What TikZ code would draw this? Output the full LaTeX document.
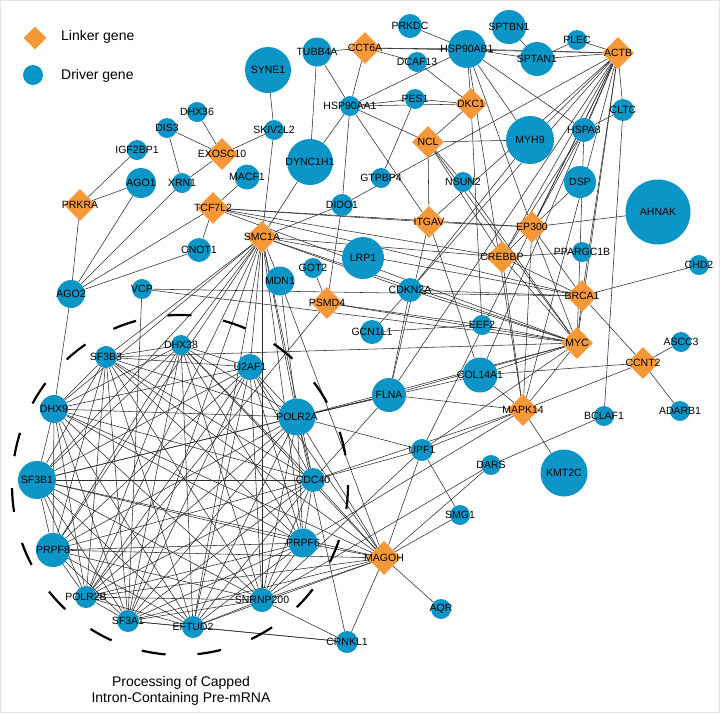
\documentclass[tikz,border=0pt]{standalone}
\usepackage{fontspec}
\setmainfont{Liberation Sans}
\usetikzlibrary{shapes.geometric}
\pgfdeclarelayer{bg}
\pgfdeclarelayer{fg}
\pgfsetlayers{bg,main,fg}
\definecolor{drvblue}{RGB}{12,150,199}
\definecolor{lnkorange}{RGB}{247,152,56}
\definecolor{framegray}{RGB}{228,228,228}
\tikzset{
  drv/.style={circle, fill=drvblue, draw=none, inner sep=0pt},
  lnk/.style={diamond, fill=lnkorange, draw=none, inner sep=0pt, minimum width=32pt, minimum height=32pt},
  lbl/.style={font=\fontsize{10.5}{12}\selectfont, text=black, inner sep=0pt},
  edge/.style={draw=black!82, line width=0.55pt},
  legtext/.style={font=\fontsize{14}{16}\selectfont, anchor=west, inner sep=0pt},
}
\newcommand\drvnode[4]{\node[drv,minimum size=#4pt] (#1) at (#2,#3) {};
  \begin{pgfonlayer}{fg}\node[lbl] (#1-l) at (#2,#3) {#1};\end{pgfonlayer}}
\newcommand\lnknode[3]{\node[lnk] (#1) at (#2,#3) {};
  \begin{pgfonlayer}{fg}\node[lbl] (#1-l) at (#2,#3) {#1};\end{pgfonlayer}}
\def\clusterlist{SF3B3,DHX38,U2AF1,DHX9,SF3B1,POLR2A,CDC40,PRPF8,PRPF6,POLR2B,SF3A1,EFTUD2,SNRNP200}
\begin{document}
\begin{tikzpicture}[x=1pt,y=-1pt]
\begin{pgfonlayer}{bg}
\fill[white] (0,0) rectangle (720,713);
\draw[framegray, line width=1pt] (0.5,0.5) rectangle (719.5,712.5);
\end{pgfonlayer}
\useasboundingbox (0,0) rectangle (720,713);
% legend
\node[lnk, minimum width=23pt, minimum height=23pt] (legL) at (35,38) {};
\node[drv, minimum size=20pt] (legD) at (33,75) {};
\node[legtext] (legLt) at (61,37) {Linker gene};
\node[legtext] (legDt) at (61,76) {Driver gene};
% driver genes
\drvnode{SYNE1}{268}{70}{46}
\drvnode{TUBB4A}{317}{52}{29}
\drvnode{PRKDC}{410}{26}{24}
\drvnode{HSP90AB1}{467}{49}{38}
\drvnode{DCAF13}{417}{62}{20}
\drvnode{SPTBN1}{509}{27}{34}
\drvnode{SPTAN1}{537}{59}{34}
\drvnode{PLEC}{577}{40}{20}
\drvnode{CLTC}{623}{110}{22}
\drvnode{HSPA8}{584}{130}{24}
\drvnode{MYH9}{530}{140}{48}
\drvnode{DSP}{580}{182}{32}
\drvnode{AHNAK}{658}{212}{65}
\drvnode{CHD2}{699}{265}{20}
\drvnode{PPARGC1B}{582}{252}{20}
\drvnode{EEF2}{482}{325}{20}
\drvnode{ASCC3}{681}{342}{20}
\drvnode{ADARB1}{680}{411}{20}
\drvnode{BCLAF1}{604}{416}{20}
\drvnode{KMT2C}{564}{473}{47}
\drvnode{DARS}{491}{465}{20}
\drvnode{SMG1}{460}{515}{20}
\drvnode{AQR}{441}{609}{20}
\drvnode{CRNKL1}{347}{642}{22}
\drvnode{UPF1}{422}{450}{22}
\drvnode{FLNA}{389}{395}{34}
\drvnode{COL14A1}{480}{375}{35}
\drvnode{GCN1L1}{372}{332}{24}
\drvnode{CDKN2A}{410}{290}{24}
\drvnode{LRP1}{363}{258}{42}
\drvnode{GOT2}{313}{268}{20}
\drvnode{MDN1}{280}{281}{29}
\drvnode{DIDO1}{342}{205}{22}
\drvnode{GTPBP4}{381}{178}{20}
\drvnode{NSUN2}{463}{182}{20}
\drvnode{DYNC1H1}{310}{162}{46}
\drvnode{HSP90AA1}{350}{106}{20}
\drvnode{PES1}{415}{99}{20}
\drvnode{SKIV2L2}{274}{130}{20}
\drvnode{MACF1}{247}{177}{25}
\drvnode{DHX36}{197}{112}{20}
\drvnode{DIS3}{167}{128}{20}
\drvnode{IGF2BP1}{137}{150}{20}
\drvnode{AGO1}{141}{183}{30}
\drvnode{XRN1}{182}{183}{20}
\drvnode{CNOT1}{199}{250}{24}
\drvnode{AGO2}{71}{294}{28}
\drvnode{VCP}{142}{289}{20}
\drvnode{SF3B3}{106}{357}{22}
\drvnode{DHX38}{181}{345}{20}
\drvnode{U2AF1}{250}{367}{26}
\drvnode{DHX9}{54}{409}{28}
\drvnode{SF3B1}{37}{480}{38}
\drvnode{POLR2A}{297}{417}{37}
\drvnode{CDC40}{313}{480}{24}
\drvnode{PRPF8}{53}{550}{34}
\drvnode{PRPF6}{303}{543}{29}
\drvnode{POLR2B}{86}{597}{22}
\drvnode{SF3A1}{128}{621}{22}
\drvnode{EFTUD2}{193}{627}{22}
\drvnode{SNRNP200}{262}{600}{24}
% linker genes
\lnknode{CCT6A}{365}{48}
\lnknode{ACTB}{618}{53}
\lnknode{DKC1}{471}{104}
\lnknode{NCL}{428}{142}
\lnknode{EXOSC10}{222}{154}
\lnknode{PRKRA}{80}{205}
\lnknode{TCF7L2}{213}{208}
\lnknode{SMC1A}{262}{237}
\lnknode{ITGAV}{429}{222}
\lnknode{EP300}{532}{227}
\lnknode{CREBBP}{502}{257}
\lnknode{BRCA1}{582}{296}
\lnknode{PSMD4}{327}{303}
\lnknode{MYC}{577}{343}
\lnknode{CCNT2}{643}{363}
\lnknode{MAPK14}{523}{410}
\node[lnk, minimum width=34pt, minimum height=34pt] (MAGOH) at (384,558) {};
\begin{pgfonlayer}{fg}\node[lbl] (MAGOH-l) at (384,558) {MAGOH};\end{pgfonlayer}
% edges
\begin{pgfonlayer}{bg}
\foreach \a [count=\i] in \clusterlist {
  \foreach \b [count=\j] in \clusterlist {
    \ifnum\j>\i \draw[edge] (\a) -- (\b); \fi
  }
  \draw[edge] (SMC1A) -- (\a);
  \draw[edge] (MAGOH) -- (\a);
}
\foreach \a/\b in {DHX36/EXOSC10, DIS3/EXOSC10, DIS3/XRN1, XRN1/EXOSC10, EXOSC10/SKIV2L2,
  IGF2BP1/PRKRA, PRKRA/AGO1, PRKRA/AGO2, AGO2/AGO1, AGO2/XRN1, AGO2/TCF7L2, AGO2/CNOT1, AGO2/DHX9,
  TCF7L2/CNOT1, TCF7L2/MACF1, TCF7L2/ITGAV, TCF7L2/EP300, TCF7L2/CREBBP, TCF7L2/BRCA1, TCF7L2/MYC,
  SYNE1/SKIV2L2, SKIV2L2/SMC1A,
  TUBB4A/CCT6A, TUBB4A/HSP90AA1, TUBB4A/DYNC1H1,
  CCT6A/HSP90AB1, CCT6A/ACTB, CCT6A/DCAF13, CCT6A/HSP90AA1,
  PRKDC/HSP90AB1, HSP90AB1/HSP90AA1, HSP90AB1/SPTAN1, HSP90AB1/ACTB, HSP90AB1/DKC1, HSP90AB1/HSPA8,
  HSP90AB1/MYH9, HSP90AB1/EP300, HSP90AB1/MAPK14,
  SPTBN1/SPTAN1, SPTAN1/PLEC, SPTAN1/ACTB, PLEC/ACTB,
  DCAF13/DKC1, HSP90AA1/PES1, PES1/DKC1, HSP90AA1/DKC1, HSP90AA1/NCL, HSP90AA1/DIDO1, HSP90AA1/ITGAV,
  HSP90AA1/DYNC1H1,
  GTPBP4/PES1, NCL/DKC1, NCL/MYH9, NCL/NSUN2, NCL/ITGAV, NCL/MYC, NCL/CREBBP, DKC1/EEF2,
  ACTB/CLTC, ACTB/HSPA8, ACTB/MYH9, ACTB/EP300, ACTB/CREBBP, ACTB/COL14A1, ACTB/UPF1, ACTB/FLNA,
  ACTB/ITGAV, ACTB/DIDO1, ACTB/MYC, ACTB/MAPK14, ACTB/BRCA1, ACTB/CDKN2A,
  HSPA8/CLTC, HSPA8/EP300, HSPA8/CREBBP, HSPA8/MYC,
  MYH9/CDKN2A, DSP/EP300, AHNAK/EP300, PPARGC1B/CREBBP,
  EP300/CREBBP, EP300/BRCA1, EP300/MYC, EP300/MAPK14, EP300/ITGAV,
  CREBBP/BRCA1, CREBBP/MYC, CREBBP/MAPK14, CREBBP/SMC1A,
  BRCA1/MYC, BRCA1/CHD2, BRCA1/CCNT2,
  MYC/MAPK14, MYC/COL14A1, MYC/FLNA, MYC/UPF1, MYC/NSUN2, MYC/EEF2,
  CCNT2/ASCC3, CCNT2/ADARB1, CCNT2/MAPK14, CCNT2/COL14A1,
  MAPK14/KMT2C, MAPK14/COL14A1, MAPK14/FLNA, MAPK14/UPF1, MAPK14/CDC40, MAPK14/PRPF6,
  CLTC/BCLAF1, BCLAF1/DARS, DARS/MAGOH, DARS/SNRNP200,
  ITGAV/FLNA, ITGAV/COL14A1, FLNA/CDKN2A,
  DYNC1H1/SMC1A, DIDO1/PSMD4, DIDO1/SMC1A, GOT2/PSMD4,
  SMC1A/MDN1, SMC1A/CDKN2A, SMC1A/BRCA1, SMC1A/MYC,
  CDKN2A/GCN1L1, CDKN2A/MYC, CDKN2A/BRCA1, GCN1L1/EEF2,
  PSMD4/EEF2, PSMD4/MYC, PSMD4/POLR2B,
  VCP/BRCA1, VCP/MYC, VCP/SF3A1,
  MDN1/POLR2A, MDN1/MAGOH,
  SF3B3/MYC, SF3B1/FLNA,
  POLR2A/FLNA, POLR2A/UPF1, POLR2A/MYC, POLR2A/COL14A1, CDC40/FLNA, CDC40/UPF1,
  UPF1/SMG1, UPF1/MAGOH, UPF1/SNRNP200,
  MAGOH/SMG1, MAGOH/AQR, MAGOH/CRNKL1,
  CRNKL1/SNRNP200, CRNKL1/POLR2A, CRNKL1/EFTUD2, CRNKL1/SF3A1}
  \draw[edge] (\a) -- (\b);
\draw[line width=2.2pt, dash pattern=on 24pt off 32pt] (180,485) ellipse [x radius=168, y radius=170];
\end{pgfonlayer}
% caption
\node[font=\fontsize{14}{16}\selectfont, align=center, inner sep=0pt] (caption) at (181,691)
  {Processing of Capped\\Intron-Containing Pre-mRNA};
\end{tikzpicture}
\end{document}
